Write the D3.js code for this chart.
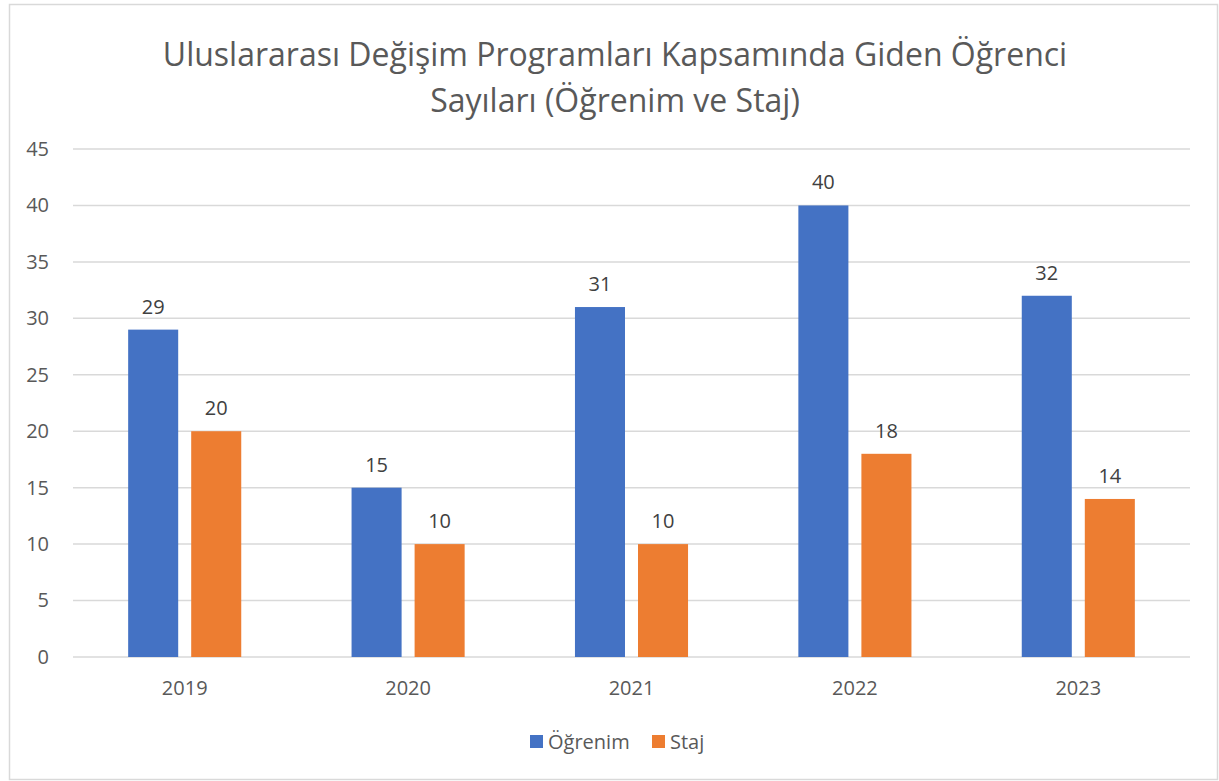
<!DOCTYPE html>
<html>
<head>
<meta charset="utf-8">
<script src="https://cdn.jsdelivr.net/npm/d3@7"></script>
<style>
  body { margin: 0; background: #fff; }
  svg text { font-family: "Open Sans", "Noto Sans", sans-serif; }
</style>
</head>
<body>
<div id="chart"></div>
<script>
const years = ["2019", "2020", "2021", "2022", "2023"];
const seriesNames = ["Öğrenim", "Staj"];
const ogrenim = [29, 15, 31, 40, 32];
const staj = [20, 10, 10, 18, 14];
const yTicks = [0, 5, 10, 15, 20, 25, 30, 35, 40, 45];
const titleLines = [
  "Uluslararası Değişim Programları Kapsamında Giden Öğrenci",
  "Sayıları (Öğrenim ve Staj)"
];
const colors = ["#4472c4", "#ed7d31"];

const W = 1219, H = 781;
const plot = { left: 73, right: 1190, top: 149, bottom: 657 };

const svg = d3
  .select("#chart")
  .append("svg")
  .attr("width", W)
  .attr("height", H);

// chart border
svg
  .append("rect")
  .attr("x", 9.5)
  .attr("y", 4.5)
  .attr("width", 1208)
  .attr("height", 775)
  .attr("fill", "#fff")
  .attr("stroke", "#d9d9d9")
  .attr("stroke-width", 1.5);

// title
svg
  .append("g")
  .selectAll("text")
  .data(titleLines)
  .join("text")
  .attr("x", 615)
  .attr("y", (d, i) => 66 + i * 46)
  .attr("text-anchor", "middle")
  .attr("font-size", "32px")
  .attr("fill", "#595959")
  .text((d) => d);

// scales
const x = d3
  .scaleBand()
  .domain(years)
  .range([plot.left, plot.right]);

const y = d3
  .scaleLinear()
  .domain([0, 45])
  .range([plot.bottom, plot.top]);

const barW = x.bandwidth() * 0.224;
const gap = 13;

// gridlines
svg
  .append("g")
  .selectAll("line")
  .data(yTicks)
  .join("line")
  .attr("x1", plot.left)
  .attr("x2", plot.right)
  .attr("y1", (d) => y(d))
  .attr("y2", (d) => y(d))
  .attr("stroke", "#d9d9d9")
  .attr("stroke-width", 1.5);

// y axis labels
const yAxis = svg
  .append("g")
  .attr("transform", `translate(${plot.left - 24},0)`)
  .call(d3.axisLeft(y).tickValues(yTicks).tickSize(0).tickPadding(0));
yAxis.select(".domain").remove();
yAxis
  .selectAll("text")
  .attr("font-size", "20px")
  .attr("fill", "#595959")
  .style("font-family", '"Open Sans", sans-serif');

// x axis labels
const xAxis = svg
  .append("g")
  .attr("transform", `translate(0,${plot.bottom + 24})`)
  .call(d3.axisBottom(x).tickSize(0).tickPadding(0));
xAxis.select(".domain").remove();
xAxis
  .selectAll("text")
  .attr("font-size", "20px")
  .attr("fill", "#595959")
  .style("font-family", '"Open Sans", sans-serif');

// bars
const series = [ogrenim, staj];
series.forEach((vals, si) => {
  const offset = si === 0 ? -gap / 2 - barW : gap / 2;
  const g = svg.append("g");
  g.selectAll("rect")
    .data(vals)
    .join("rect")
    .attr("x", (d, i) => x(years[i]) + x.bandwidth() / 2 + offset)
    .attr("y", (d) => y(d))
    .attr("width", barW)
    .attr("height", (d) => y(0) - y(d))
    .attr("fill", colors[si]);
  g.selectAll("text")
    .data(vals)
    .join("text")
    .attr("x", (d, i) => x(years[i]) + x.bandwidth() / 2 + offset + barW / 2)
    .attr("y", (d) => y(d) - 16)
    .attr("text-anchor", "middle")
    .attr("font-size", "20px")
    .attr("fill", "#404040")
    .text((d) => d);
});

// legend
const legend = svg.append("g").attr("transform", "translate(530,735)");
const legendX = [0, 122];
seriesNames.forEach((name, i) => {
  legend
    .append("rect")
    .attr("x", legendX[i])
    .attr("y", 0)
    .attr("width", 13)
    .attr("height", 13)
    .attr("fill", colors[i]);
  legend
    .append("text")
    .attr("x", legendX[i] + 18)
    .attr("y", 14)
    .attr("font-size", "20px")
    .attr("fill", "#595959")
    .text(name);
});
</script>
</body>
</html>
